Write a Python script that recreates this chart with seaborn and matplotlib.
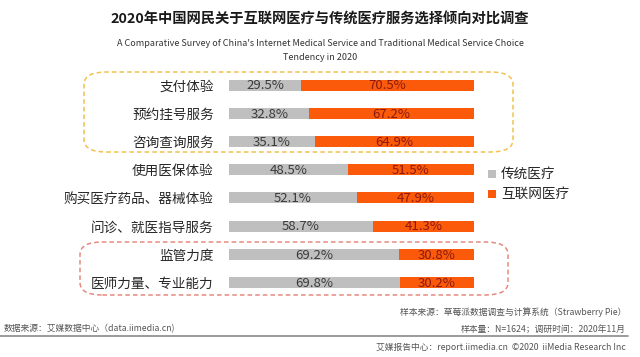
import matplotlib
matplotlib.use("Agg")
import matplotlib.pyplot as plt
import seaborn as sns
import pandas as pd
from matplotlib.patches import FancyBboxPatch, Rectangle
from matplotlib.lines import Line2D

categories = ["支付体验", "预约挂号服务", "咨询查询服务", "使用医保体验",
              "购买医疗药品、器械体验", "问诊、就医指导服务", "监管力度", "医师力量、专业能力"]
traditional = [29.5, 32.8, 35.1, 48.5, 52.1, 58.7, 69.2, 69.8]
internet = [70.5, 67.2, 64.9, 51.5, 47.9, 41.3, 30.8, 30.2]
series_names = ["传统医疗", "互联网医疗"]

sns.set_theme(style="white")
plt.rcParams['font.family'] = ['Noto Sans CJK SC', 'DejaVu Sans']

GREY = "#BFBFBF"
ORANGE = "#FA5A0A"

df = pd.DataFrame({"category": categories, "traditional": traditional, "internet": internet})
df["total"] = df["traditional"] + df["internet"]

W, H = 640, 357
fig = plt.figure(figsize=(6.4, 3.57), dpi=100)

def fx(px):
    return px / W

def fy(py):
    return 1 - py / H

left_px, right_px = 229, 474
top_px, bot_px = 71, 296.5
ax = fig.add_axes([fx(left_px), fy(bot_px), fx(right_px - left_px), (bot_px - top_px) / H])

sns.barplot(data=df, y="category", x="total", color=ORANGE, orient="h",
            width=0.39, ax=ax, saturation=1)
sns.barplot(data=df, y="category", x="traditional", color=GREY, orient="h",
            width=0.39, ax=ax, saturation=1)
for p in ax.patches:
    p.set_edgecolor("none")

ax.set_xlim(0, 100)
ax.set_ylim(len(categories) - 0.5, -0.5)
ax.set_xlabel("")
ax.set_ylabel("")
ax.set_xticks([])
ax.tick_params(axis="y", length=0, pad=11, labelsize=9.8, labelcolor="#262626")
for s in ax.spines.values():
    s.set_visible(False)

for i, (t, n) in enumerate(zip(traditional, internet)):
    ax.text(t / 2, i + 0.03, f"{t}%", ha="center", va="center", fontsize=9.5, color="#3A3A3A")
    ax.text(t + n / 2, i + 0.03, f"{n}%", ha="center", va="center", fontsize=9.5, color="#8B1A10")

# title
fig.text(0.5, fy(20), "2020年中国网民关于互联网医疗与传统医疗服务选择倾向对比调查",
         ha="center", va="center", fontsize=10.3, fontweight="bold", color="#1A1A1A")
fig.text(0.5, fy(44), "A Comparative Survey of China's Internet Medical Service and Traditional Medical Service Choice",
         ha="center", va="center", fontsize=6.5, color="#333333")
fig.text(0.5, fy(58), "Tendency in 2020", ha="center", va="center", fontsize=6.5, color="#333333")

# dashed boxes
box1 = FancyBboxPatch((fx(84), fy(152)), fx(513 - 84), (152 - 72) / H,
                      boxstyle="round,pad=0,rounding_size=0.035", transform=fig.transFigure,
                      fill=False, edgecolor="#F2C14E", linestyle=(0, (3, 2)), linewidth=1.1)
fig.add_artist(box1)
box2 = FancyBboxPatch((fx(80), fy(295)), fx(508 - 80), (295 - 242) / H,
                      boxstyle="round,pad=0,rounding_size=0.035", transform=fig.transFigure,
                      fill=False, edgecolor="#E58A80", linestyle=(0, (3, 2)), linewidth=1.1)
fig.add_artist(box2)

# legend
for j, (name, col) in enumerate(zip(series_names, [GREY, ORANGE])):
    yc = 174 + j * 20
    fig.add_artist(Rectangle((fx(488), fy(yc + 4)), fx(8), 8 / H, transform=fig.transFigure,
                             facecolor=col, edgecolor="none"))
    fig.text(fx(501), fy(yc), name, ha="left", va="center", fontsize=9.8, color="#262626")

# footer
fig.text(fx(626), fy(312), "样本来源：草莓派数据调查与计算系统（Strawberry Pie）",
         ha="right", va="center", fontsize=6.3, color="#555555")
fig.text(fx(626), fy(329), "样本量：N=1624；调研时间：2020年11月",
         ha="right", va="center", fontsize=6.3, color="#555555")
fig.text(fx(4), fy(329), "数据来源：艾媒数据中心（data.iimedia.cn)",
         ha="left", va="center", fontsize=6.3, color="#555555")
fig.add_artist(Line2D([0, fx(628)], [fy(336), fy(336)], transform=fig.transFigure,
                      color="#8A8A8A", linewidth=1.2))
fig.text(fx(626), fy(347), "艾媒报告中心：report.iimedia.cn  ©2020  iiMedia Research Inc",
         ha="right", va="center", fontsize=6.3, color="#555555")

fig.savefig("out.png", dpi=100)
